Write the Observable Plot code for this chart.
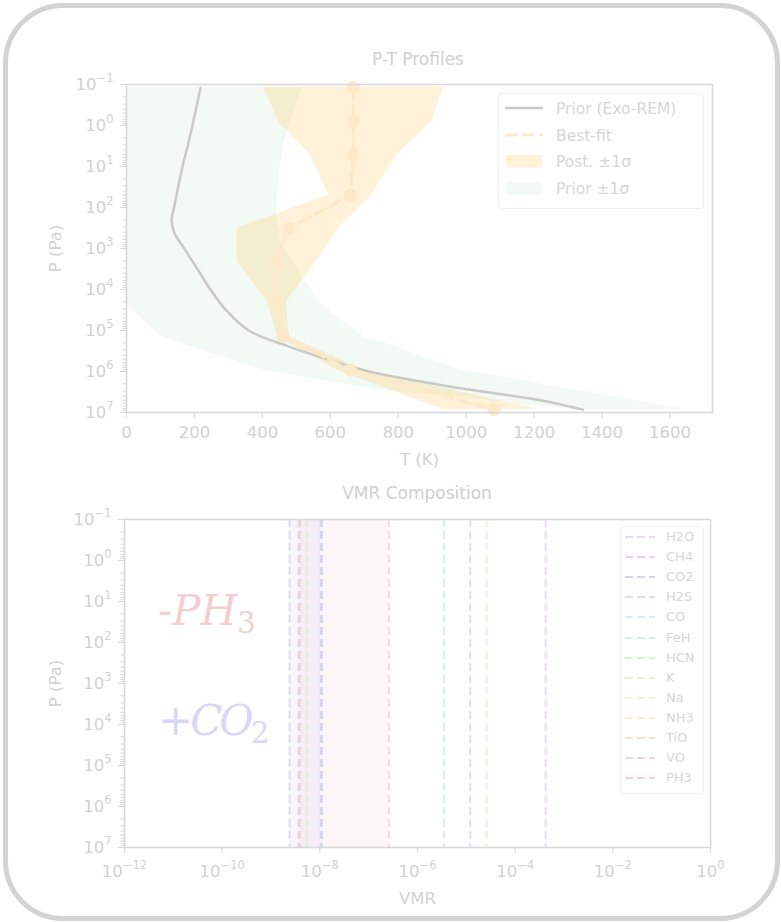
<!DOCTYPE html>
<html><head><meta charset="utf-8">
<script src="https://cdn.jsdelivr.net/npm/d3@7"></script>
<script src="https://cdn.jsdelivr.net/npm/@observablehq/plot@0.6"></script>
<style>
html,body{margin:0;padding:0;background:#fff;}
#fig{position:relative;width:781px;height:922px;overflow:hidden;font-family:"DejaVu Sans",sans-serif;background:#fff;}
#fig svg{position:absolute;left:0;background:transparent;}
#frame{position:absolute;left:3px;top:3px;width:767px;height:908px;border:5px solid #d3d3d3;border-radius:60px;pointer-events:none;}
.title{position:absolute;width:600px;text-align:center;font-size:17px;color:#d0d0d0;white-space:nowrap;}
.leg{position:absolute;border:1px solid #efefef;border-radius:4px;background:rgba(255,255,255,0.8);}
.legtxt{position:absolute;white-space:nowrap;color:#d6d6d6;}
.anno{position:absolute;font-family:"DejaVu Serif",serif;font-size:42px;white-space:nowrap;line-height:1;}
.anno i{font-style:italic;}
.anno sub{font-size:0.7em;vertical-align:-0.28em;line-height:0;}
</style></head>
<body>
<div id="fig"></div>
<script>
// ---------- P-T panel data ----------
const priorP = [0.12, 0.32, 1, 3.2, 10, 32, 100, 200, 400, 1e3, 3.2e3, 1e4, 3.2e4, 1e5, 2.5e5, 5e5, 1e6, 2.5e6, 5e6, 8.5e6];
const priorT = [218, 207, 194, 180, 165, 152, 140, 133, 140, 170, 209, 247, 293, 360, 480, 590, 715, 975, 1218, 1343];

const priorBandP  = [0.12, 0.32, 1, 3.2, 10, 100, 320, 1e3, 2.3e3, 2.2e4, 2.4e4, 1.45e5, 1.9e5, 9.3e5, 2.9e6, 4.2e6, 8.5e6];
const priorBandLo = [0, 0, 0, 0, 0, 0, 0, 0, 0, 0, 0, 105, 149, 403, 747, 982, 1300];
const priorBandHi = [518, 500, 478, 462, 452, 442, 445, 465, 492, 571, 575, 698, 747, 991, 1327, 1437, 1650];

const postP    = [0.117, 0.81, 5.2, 50, 324, 2000, 1.9e4, 1.4e5, 9.3e5, 8.5e6];
const postLo   = [404, 448, 541, 595, 325, 325, 414, 445, 620, 933];
const postHi   = [933, 899, 796, 722, 624, 560, 472, 478, 700, 1218];
const bestFitT = [668, 668, 668, 659, 477, 443, 441, 461, 659, 1083];

const tTicks = [0, 200, 400, 600, 800, 1000, 1200, 1400, 1600];
const pTicks = [1e-1, 1, 1e1, 1e2, 1e3, 1e4, 1e5, 1e6, 1e7];
const vmrTicks = [1e-12, 1e-10, 1e-8, 1e-6, 1e-4, 1e-2, 1];

const ptLegendLabels = ["Prior (Exo-REM)", "Best-fit", "Post. \u00b11\u03c3", "Prior \u00b11\u03c3"];

// ---------- VMR panel data ----------
const species = ["H2O","CH4","CO2","H2S","CO","FeH","HCN","K","Na","NH3","TiO","VO","PH3"];
const speciesColors = ["#eed6f4","#e2d4f6","#d4d4f6","#d4e2f8","#d6eef8","#d2f2e0","#d6f2d2","#e6f2d0","#f2f2d0","#f8ecd4","#f8e0d2","#f6d4d2","#f6d0d6"];
const speciesVMR = [4.2e-4, null, 1.07e-8, 1.2e-5, 3.5e-6, null, 5.4e-9, null, null, 2.6e-5, null, null, 3.8e-9];
const highlighted = ["CO2", "PH3"];
// previous retrieval values for the two changed species
const changedSpecies = ["CO2", "PH3"];
const previousVMR = [2.4e-9, 2.6e-7];
const previousColors = ["#dcdcf8", "#f8dcdc"];
const bandColors = ["#6060d0", "#e06060"];

// ---------- helpers ----------
const TEXT = "#d2d2d2", LINE = "#d8d8d8";
const sup = (d) => "10^" + String(Math.round(Math.log10(d))).replace("-", "\u2212");
function supify(svg) {
  d3.select(svg).selectAll("text").each(function () {
    const m = /^10\^(.+)$/.exec(this.textContent);
    if (!m) return;
    const el = d3.select(this);
    el.text(null);
    el.append("tspan").text("10");
    el.append("tspan").attr("font-size", "11.5px").attr("dy", "-8").text(m[1]);
  });
}
function minorTicks(lo, hi) {
  const out = [];
  for (let e = lo; e < hi; e++) for (let k = 2; k <= 9; k++) out.push(k * Math.pow(10, e));
  return out;
}
const style = {fontFamily: "DejaVu Sans", fontSize: "16.5px", background: "transparent", overflow: "visible"};

const fig = document.getElementById("fig");

// ---------- top panel ----------
const prior = priorP.map((P, i) => ({P, T: priorT[i]}));
const priorBand = priorBandP.map((P, i) => ({P, lo: priorBandLo[i], hi: priorBandHi[i]}));
const post = postP.map((P, i) => ({P, lo: postLo[i], hi: postHi[i], T: bestFitT[i]}));
const BEST = "#fee8c9";

const topPlot = Plot.plot({
  width: 781, height: 480,
  marginTop: 84, marginBottom: 68, marginLeft: 126, marginRight: 69,
  style,
  x: {domain: [0, 1725]},
  y: {type: "log", domain: [0.1, 1e7], reverse: true},
  marks: [
    Plot.areaX(priorBand, {y: "P", x1: "lo", x2: "hi", fill: "#2ca02c", fillOpacity: 0.06, clip: true}),
    Plot.areaX(post, {y: "P", x1: "lo", x2: "hi", fill: "#ffa500", fillOpacity: 0.15, clip: true}),
    Plot.line(prior, {x: "T", y: "P", stroke: "#c9c9c9", strokeWidth: 2.5, curve: "catmull-rom", clip: true}),
    Plot.line(post, {x: "T", y: "P", stroke: BEST, strokeWidth: 3.2, strokeDasharray: "12,5"}),
    Plot.dot(post, {x: "T", y: "P", r: 6.5, fill: BEST}),
    Plot.frame({stroke: LINE, strokeWidth: 1.6}),
    Plot.axisX(tTicks, {tickSize: 6, tickPadding: 8, stroke: LINE, fill: TEXT, tickFormat: d => String(d),
      label: "T (K)", labelAnchor: "center", labelArrow: "none", labelOffset: 52}),
    Plot.axisY(pTicks, {tickSize: 6, tickPadding: 7, stroke: LINE, fill: TEXT, tickFormat: sup,
      label: "P (Pa)", labelAnchor: "center", labelArrow: "none", labelOffset: 77}),
    Plot.axisY(minorTicks(-1, 7), {tickSize: 3.5, stroke: LINE, fill: "none"})
  ]
});
topPlot.style.top = "0px";
supify(topPlot);
fig.appendChild(topPlot);

// ---------- bottom panel ----------
const lines = species.map((s, i) => ({s, vmr: speciesVMR[i], color: speciesColors[i], w: highlighted.includes(s) ? 3.2 : 2}))
  .filter(d => d.vmr != null)
  .concat(changedSpecies.map((s, i) => ({s, vmr: previousVMR[i], color: previousColors[i], w: 2})));
const bands = changedSpecies.map((s, i) => {
  const cur = speciesVMR[species.indexOf(s)];
  return {s, a: Math.min(cur, previousVMR[i]), b: Math.max(cur, previousVMR[i]), color: bandColors[i]};
});

const botPlot = Plot.plot({
  width: 781, height: 442,
  marginTop: 39, marginBottom: 75, marginLeft: 124, marginRight: 71,
  style,
  x: {type: "log", domain: [1e-12, 1]},
  y: {type: "log", domain: [0.1, 1e7], reverse: true},
  marks: [
    Plot.rect(bands, {x1: "a", x2: "b", fill: "color", fillOpacity: 0.055}),
    Plot.ruleX(lines, {x: "vmr", stroke: "color", strokeWidth: "w", strokeDasharray: "8,4"}),
    Plot.frame({stroke: LINE, strokeWidth: 1.6}),
    Plot.axisX(vmrTicks, {tickSize: 6, tickPadding: 12, stroke: LINE, fill: TEXT, tickFormat: sup,
      label: "VMR", labelAnchor: "center", labelArrow: "none", labelOffset: 56}),
    Plot.axisY(pTicks, {tickSize: 6, tickPadding: 7, stroke: LINE, fill: TEXT, tickFormat: sup,
      label: "P (Pa)", labelAnchor: "center", labelArrow: "none", labelOffset: 75}),
    Plot.axisY(minorTicks(-1, 7), {tickSize: 3.5, stroke: LINE, fill: "none"})
  ]
});
botPlot.style.top = "480px";
supify(botPlot);
fig.appendChild(botPlot);

// ---------- titles ----------
function addTitle(text, cx, cy) {
  const d = document.createElement("div");
  d.className = "title"; d.textContent = text;
  d.style.left = (cx - 300) + "px"; d.style.top = (cy - 11) + "px";
  fig.appendChild(d);
}
addTitle("P-T Profiles", 418, 60);
addTitle("VMR Composition", 417, 494);

// ---------- top legend ----------
{
  const box = document.createElement("div");
  box.className = "leg";
  Object.assign(box.style, {left: "498px", top: "93px", width: "204px", height: "114px"});
  fig.appendChild(box);
  const sw = [
    `<svg width="40" height="16"><line x1="1" x2="39" y1="8" y2="8" stroke="#c9c9c9" stroke-width="2.5"/></svg>`,
    `<svg width="40" height="16"><line x1="1" x2="39" y1="8" y2="8" stroke="${BEST}" stroke-width="3.2" stroke-dasharray="12,5"/></svg>`,
    `<svg width="40" height="16"><rect x="2" y="2" width="36" height="12.5" fill="#ffa500" fill-opacity="0.15"/></svg>`,
    `<svg width="40" height="16"><rect x="2" y="2" width="36" height="12.5" fill="#2ca02c" fill-opacity="0.06"/></svg>`
  ];
  ptLegendLabels.forEach((lab, i) => {
    const cy = 109 + i * 26.7;
    const s = document.createElement("div");
    s.innerHTML = sw[i];
    Object.assign(s.style, {position: "absolute", left: "504px", top: (cy - 9) + "px", lineHeight: 0});
    fig.appendChild(s);
    const t = document.createElement("div");
    t.className = "legtxt"; t.textContent = lab;
    Object.assign(t.style, {left: "556px", top: (cy - 10) + "px", fontSize: "15.5px", lineHeight: "20px"});
    fig.appendChild(t);
  });
}

// ---------- bottom legend ----------
{
  const box = document.createElement("div");
  box.className = "leg";
  Object.assign(box.style, {left: "620px", top: "526px", width: "82px", height: "266px"});
  fig.appendChild(box);
  species.forEach((lab, i) => {
    const cy = 537 + i * 20.1;
    const s = document.createElement("div");
    s.innerHTML = `<svg width="34" height="10"><line x1="2" x2="32" y1="5" y2="5" stroke="${speciesColors[i]}" stroke-width="2" stroke-dasharray="8,4"/></svg>`;
    Object.assign(s.style, {position: "absolute", left: "623px", top: (cy - 5) + "px", lineHeight: 0});
    fig.appendChild(s);
    const t = document.createElement("div");
    t.className = "legtxt"; t.textContent = lab;
    Object.assign(t.style, {left: "666px", top: (cy - 8) + "px", fontSize: "13px", lineHeight: "16px"});
    fig.appendChild(t);
  });
}

// ---------- annotations ----------
{
  const a1 = document.createElement("div");
  a1.className = "anno";
  a1.style.color = "#f2cfcf";
  a1.innerHTML = `-<i>PH</i><sub>3</sub>`;
  Object.assign(a1.style, {left: "158px", top: "590px"});
  fig.appendChild(a1);
  const a2 = document.createElement("div");
  a2.className = "anno";
  a2.style.color = "#d8d8f6";
  a2.innerHTML = `+<i>CO</i><sub>2</sub>`;
  Object.assign(a2.style, {left: "158px", top: "700px", letterSpacing: "-3px"});
  fig.appendChild(a2);
}

const frame = document.createElement("div");
frame.id = "frame";
fig.appendChild(frame);
</script>
</body></html>
